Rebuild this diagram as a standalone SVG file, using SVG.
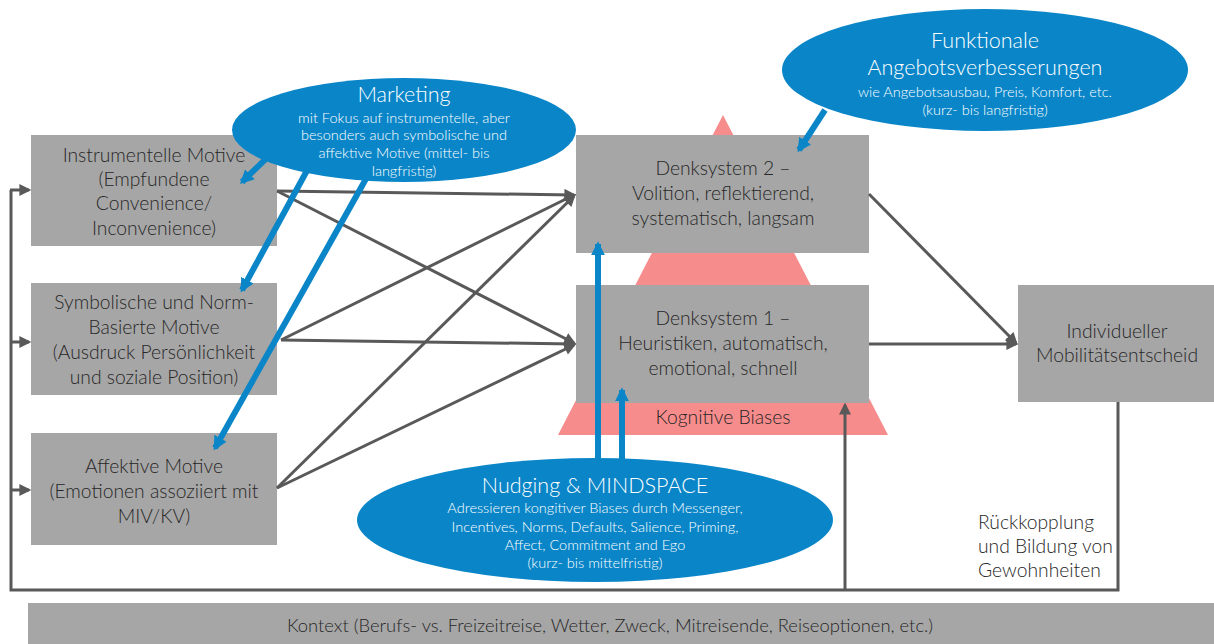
<svg xmlns="http://www.w3.org/2000/svg" width="1214" height="644" viewBox="0 0 1214 644">
  <style>
    .box { fill: #A6A6A6; }
    .bubble { fill: #0A86C8; }
    .t { font-family: Lato, "Open Sans", sans-serif; font-weight: 300; font-size: 19.3px; fill: #262626; text-anchor: middle; }
    .tl { text-anchor: start; }
    .ctx { font-size: 18.4px; }
    .bt { font-family: Lato, "Open Sans", sans-serif; font-weight: 300; fill: #FFFFFF; text-anchor: middle; }
    .big { font-size: 21.5px; }
    .small { font-size: 14.5px; }
    .conn { stroke: #595959; stroke-width: 3; fill: none; }
    .blue { stroke: #0A86C8; stroke-width: 6; fill: none; }
  </style>
  <defs>
    <marker id="ah" viewBox="0 0 10 10" refX="8" refY="5" markerWidth="13" markerHeight="12" markerUnits="userSpaceOnUse" orient="auto">
      <path d="M0,0 L10,5 L0,10 z" fill="#595959"/>
    </marker>
    <marker id="bh" viewBox="0 0 10 10" refX="8" refY="5" markerWidth="14" markerHeight="16" markerUnits="userSpaceOnUse" orient="auto">
      <path d="M0,0 L10,5 L0,10 z" fill="#0A86C8"/>
    </marker>
  </defs>

  <!-- bias pyramid behind the two thinking systems -->
  <g id="biases">
    <polygon points="723,115 558,435 888,435" fill="#F78C8C"/>
    <text class="t" x="723" y="424">Kognitive Biases</text>
  </g>

  <!-- motive boxes -->
  <g id="instrumentelle">
    <rect class="box" x="31" y="135" width="246" height="111"/>
    <text class="t" x="154" y="162">Instrumentelle Motive</text>
    <text class="t" x="154" y="186">(Empfundene</text>
    <text class="t" x="154" y="210">Convenience/</text>
    <text class="t" x="154" y="235">Inconvenience)</text>
  </g>
  <g id="symbolische">
    <rect class="box" x="31" y="283" width="246" height="112"/>
    <text class="t" x="154" y="309">Symbolische und Norm-</text>
    <text class="t" x="154" y="334">Basierte Motive</text>
    <text class="t" x="154" y="359">(Ausdruck Persönlichkeit</text>
    <text class="t" x="154" y="384">und soziale Position)</text>
  </g>
  <g id="affektive">
    <rect class="box" x="31" y="433" width="246" height="112"/>
    <text class="t" x="154" y="473">Affektive Motive</text>
    <text class="t" x="154" y="498">(Emotionen assoziiert mit</text>
    <text class="t" x="154" y="523">MIV/KV)</text>
  </g>

  <!-- thinking systems -->
  <g id="denksystem2">
    <rect class="box" x="576" y="135" width="293" height="118"/>
    <text class="t" x="723" y="175">Denksystem 2 –</text>
    <text class="t" x="723" y="200">Volition, reflektierend,</text>
    <text class="t" x="723" y="225">systematisch, langsam</text>
  </g>
  <g id="denksystem1">
    <rect class="box" x="576" y="285" width="293" height="118"/>
    <text class="t" x="723" y="325">Denksystem 1 –</text>
    <text class="t" x="723" y="350">Heuristiken, automatisch,</text>
    <text class="t" x="723" y="375">emotional, schnell</text>
  </g>

  <g id="entscheid">
    <rect class="box" x="1018" y="285" width="196" height="117"/>
    <text class="t" x="1117" y="338">Individueller</text>
    <text class="t" x="1117" y="362">Mobilitätsentscheid</text>
  </g>

  <g id="kontext">
    <rect class="box" x="28" y="603" width="1186" height="41"/>
    <text class="t ctx" x="610" y="632">Kontext (Berufs- vs. Freizeitreise, Wetter, Zweck, Mitreisende, Reiseoptionen, etc.)</text>
  </g>

  <g id="rueckkopplung">
    <text class="t tl" x="978" y="529">Rückkopplung</text>
    <text class="t tl" x="978" y="553">und Bildung von</text>
    <text class="t tl" x="978" y="577">Gewohnheiten</text>
  </g>

  <!-- connectors -->
  <g id="connectors">
    <line class="conn" x1="277" y1="191" x2="574" y2="195" marker-end="url(#ah)"/>
    <line class="conn" x1="277" y1="191" x2="574" y2="343" marker-end="url(#ah)"/>
    <line class="conn" x1="281" y1="340" x2="574" y2="195" marker-end="url(#ah)"/>
    <line class="conn" x1="281" y1="340" x2="574" y2="344" marker-end="url(#ah)"/>
    <line class="conn" x1="277" y1="488" x2="574" y2="196" marker-end="url(#ah)"/>
    <line class="conn" x1="277" y1="488" x2="574" y2="345" marker-end="url(#ah)"/>
    <line class="conn" x1="869" y1="194" x2="1016" y2="343" marker-end="url(#ah)"/>
    <line class="conn" x1="869" y1="344" x2="1016" y2="344" marker-end="url(#ah)"/>
    <!-- feedback loop -->
    <polyline class="conn" points="1118,402 1118,590 11,590 11,190"/>
    <line class="conn" x1="10" y1="190" x2="29" y2="190" marker-end="url(#ah)"/>
    <line class="conn" x1="11" y1="342" x2="29" y2="342" marker-end="url(#ah)"/>
    <line class="conn" x1="11" y1="490" x2="29" y2="490" marker-end="url(#ah)"/>
    <line class="conn" x1="845" y1="590" x2="845" y2="405" marker-end="url(#ah)"/>
  </g>

  <!-- intervention arrows -->
  <g id="intervention-arrows">
    <line class="blue" x1="275" y1="150" x2="242" y2="182" marker-end="url(#bh)"/>
    <line class="blue" x1="310" y1="165" x2="242" y2="290" marker-end="url(#bh)"/>
    <line class="blue" x1="367" y1="177" x2="215" y2="448" marker-end="url(#bh)"/>
    <line class="blue" x1="825" y1="110" x2="799" y2="150" marker-end="url(#bh)"/>
    <line class="blue" x1="598" y1="470" x2="598" y2="244" marker-end="url(#bh)"/>
    <line class="blue" x1="622" y1="470" x2="622" y2="390" marker-end="url(#bh)"/>
  </g>

  <g id="marketing">
    <ellipse class="bubble" cx="404" cy="130" rx="172" ry="52"/>
    <text class="bt big" x="404" y="102">Marketing</text>
    <text class="bt small" x="404" y="123">mit Fokus auf instrumentelle, aber</text>
    <text class="bt small" x="404" y="140">besonders auch symbolische und</text>
    <text class="bt small" x="404" y="158">affektive Motive (mittel- bis</text>
    <text class="bt small" x="404" y="176">langfristig)</text>
  </g>

  <g id="funktionale">
    <ellipse class="bubble" cx="985" cy="70" rx="203" ry="61"/>
    <text class="bt big" x="985" y="48">Funktionale</text>
    <text class="bt big" x="985" y="75">Angebotsverbesserungen</text>
    <text class="bt small" x="985" y="97">wie Angebotsausbau, Preis, Komfort, etc.</text>
    <text class="bt small" x="985" y="115">(kurz- bis langfristig)</text>
  </g>

  <g id="nudging">
    <ellipse class="bubble" cx="595" cy="520" rx="238" ry="62"/>
    <text class="bt big" x="595" y="493">Nudging &amp; MINDSPACE</text>
    <text class="bt small" x="595" y="513">Adressieren kongitiver Biases durch Messenger,</text>
    <text class="bt small" x="595" y="532">Incentives, Norms, Defaults, Salience, Priming,</text>
    <text class="bt small" x="595" y="550">Affect, Commitment and Ego</text>
    <text class="bt small" x="595" y="568">(kurz- bis mittelfristig)</text>
  </g>
</svg>
